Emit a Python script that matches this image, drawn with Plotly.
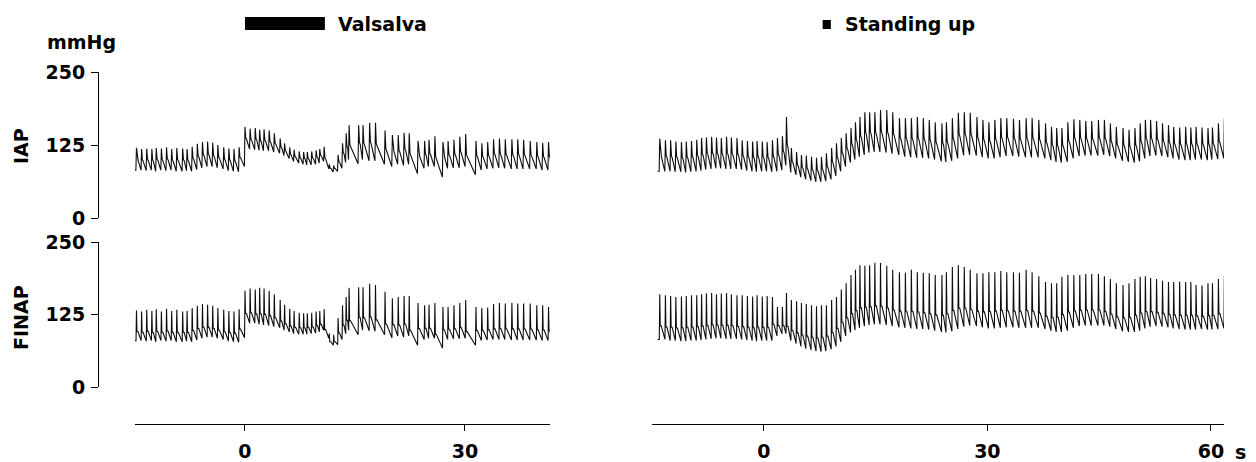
import plotly.graph_objects as go

# ---------------- DATA ----------------
# Left panel (Valsalva): beat peak times (s)
L_pre_t = [-14.8, -14.1, -13.4, -12.7, -12.1, -11.4, -10.7, -10.0, -9.3, -8.5, -7.9,
           -7.2, -6.5, -5.8, -5.1, -4.4, -3.7, -2.9, -2.2, -1.5, -0.8]
L_val_t = [0.0, 0.7, 1.4, 2.0, 2.6, 3.3, 4.0, 4.8, 5.4, 6.1, 6.7, 7.4, 8.0, 8.5, 9.1, 9.7, 10.2, 10.8]
L_dip_t = [11.5, 12.1]
L_rec_t = [12.7, 13.3, 13.8, 14.2, 15.5, 16.1, 17.0, 17.8, 19.1, 20.1, 20.9, 21.7, 22.4, 23.6,
           24.5, 25.1, 25.9, 27.0, 27.7, 28.5, 29.3, 30.1, 31.5, 32.3, 33.1, 33.9, 34.7, 35.5,
           36.4, 37.2, 38.0, 38.9, 39.8, 40.6, 41.4]

# IAP left: systolic / end-diastolic per beat (mmHg)
IAP_L_sys = ([120, 118, 119, 118, 120, 119, 121, 118, 120, 119, 118, 122, 127, 130, 131, 129, 125, 121, 119, 118, 121]
             + [156, 153, 154, 151, 152, 150, 145, 136, 128, 121, 117, 114, 113, 113, 114, 116, 118, 122]
             + [92, 90]
             + [108, 128, 145, 159, 159, 159, 163, 163, 150, 142, 142, 146, 145, 132, 132, 134, 140, 130,
                132, 134, 139, 144, 132, 128, 130, 135, 136, 135, 135, 135, 134, 132, 130, 129, 130])
IAP_L_dia = ([82, 81, 82, 80, 82, 81, 82, 80, 80, 81, 80, 83, 86, 88, 88, 86, 84, 81, 80, 79, 88]
             + [118, 117, 116, 115, 115, 113, 111, 107, 102, 97, 94, 92, 91, 91, 92, 94, 97, 84]
             + [79, 80]
             + [85, 95, 100, 93, 100, 98, 98, 92, 88, 92, 90, 92, 76, 85, 88, 88, 70, 85, 86, 86, 88,
                74, 82, 84, 85, 86, 85, 84, 84, 84, 84, 84, 82, 82, 82])
# FINAP left
FIN_L_sys = ([132, 130, 133, 131, 134, 130, 135, 131, 133, 130, 131, 136, 140, 143, 142, 140, 136, 133, 131, 130, 134]
             + [166, 170, 168, 171, 170, 166, 160, 150, 142, 135, 131, 128, 127, 127, 128, 130, 131, 134]
             + [92, 90]
             + [119, 141, 155, 171, 172, 172, 178, 176, 164, 153, 155, 157, 157, 145, 141, 142, 145, 138,
                138, 141, 145, 150, 138, 136, 137, 143, 145, 144, 145, 144, 144, 144, 141, 141, 138])
FIN_L_dia = ([80, 79, 80, 78, 80, 79, 80, 78, 78, 79, 78, 81, 84, 86, 86, 84, 82, 79, 78, 77, 85]
             + [110, 110, 108, 107, 106, 104, 102, 98, 95, 92, 91, 91, 91, 92, 93, 95, 98, 84]
             + [72, 73]
             + [82, 92, 98, 90, 98, 97, 96, 90, 85, 88, 86, 88, 72, 82, 84, 84, 67, 82, 83, 83, 84,
                72, 80, 81, 82, 82, 82, 81, 81, 81, 81, 81, 80, 80, 80])

# Right panel (Standing up): beat peak times (s)
R_pre_t = [-13.96, -13.2, -12.5, -11.8, -11.05, -10.4, -9.7, -9.0, -8.35, -7.7, -7.0, -6.35, -5.7,
           -5.0, -4.35, -3.6, -2.9, -2.2, -1.5, -0.9, -0.2, 0.45, 1.16, 1.83, 2.5]
R_spk_t = [3.04]
R_post_t = [3.7, 4.4, 5.05, 5.7, 6.4, 7.07, 7.74, 8.4, 9.1, 9.75]
R_mid_t = [10.4, 11.05, 11.7, 12.3, 12.9, 13.56, 14.2, 14.9, 15.66, 16.5, 17.3, 18.2, 19.0, 19.8,
           20.6, 21.4, 22.2, 23.0, 23.9, 24.5, 25.3, 26.1, 26.9, 27.7, 28.6, 29.4, 30.2, 31.0,
           31.8, 32.6, 33.5, 34.3, 35.2]
R_late_t = [36.0, 36.9, 37.8, 38.6, 39.3, 40.0, 40.8, 41.6, 42.4, 43.2, 44.0, 44.9, 45.7, 46.5,
            47.3, 48.2, 49.0, 49.8, 50.5, 51.2, 51.9, 52.7, 53.5, 54.3, 55.0, 55.8, 56.6, 57.3,
            58.0, 58.8, 59.6, 60.2, 61.0, 61.8]

IAP_R_sys = ([136, 133, 133, 131, 130, 131, 132, 134, 137, 138, 139, 138, 137, 139, 138, 137, 133, 132,
              131, 132, 131, 130, 133, 137, 140]
             + [173]
             + [120, 113, 108, 107, 105, 103, 105, 111, 120, 128]
             + [137, 145, 154, 164, 173, 181, 181, 181, 185, 185, 181, 171, 171, 171, 173, 171, 168, 164,
                162, 164, 171, 180, 181, 180, 173, 168, 164, 168, 171, 171, 170, 168, 171]
             + [171, 168, 162, 156, 154, 154, 164, 169, 168, 166, 166, 168, 168, 162, 156, 154, 151, 154,
                162, 168, 168, 166, 162, 159, 156, 155, 156, 155, 156, 155, 154, 155, 162, 171])
IAP_R_dia = ([80, 80, 79, 79, 78, 79, 80, 81, 83, 84, 85, 85, 84, 84, 84, 83, 81, 80, 79, 80, 80, 79, 80, 82, 90]
             + [78]
             + [74, 70, 66, 64, 62, 62, 63, 66, 72, 80]
             + [88, 95, 100, 105, 108, 112, 113, 113, 112, 110, 108, 105, 104, 103, 103, 102, 100, 97,
                96, 98, 102, 107, 108, 107, 104, 102, 102, 104, 106, 106, 105, 104, 104]
             + [104, 102, 99, 96, 95, 96, 102, 106, 107, 107, 107, 108, 106, 102, 98, 96, 95, 97, 102,
                106, 107, 106, 104, 102, 100, 99, 99, 100, 100, 99, 100, 101, 102, 104])
FIN_R_sys = ([160, 158, 157, 155, 156, 157, 158, 158, 160, 161, 162, 160, 161, 162, 160, 158, 158, 157,
              156, 158, 156, 157, 155, 138, 138]
             + [162]
             + [150, 148, 145, 143, 141, 139, 141, 141, 150, 155]
             + [168, 179, 193, 202, 210, 209, 210, 214, 214, 209, 202, 198, 197, 202, 198, 197, 196, 193,
                193, 198, 207, 210, 207, 202, 196, 196, 198, 198, 200, 198, 198, 197, 202]
             + [198, 191, 181, 179, 179, 190, 193, 193, 193, 195, 195, 195, 191, 186, 179, 176, 179, 186,
                190, 191, 188, 186, 183, 181, 181, 182, 181, 181, 176, 175, 179, 179, 186, 192])
FIN_R_dia = ([82, 80, 80, 79, 79, 80, 80, 81, 82, 83, 84, 84, 83, 83, 83, 82, 81, 80, 79, 80, 80, 80, 88, 92, 92]
             + [80]
             + [75, 70, 66, 64, 62, 61, 62, 65, 70, 78]
             + [88, 94, 98, 102, 105, 107, 108, 108, 107, 105, 103, 102, 101, 100, 100, 99, 97, 95, 94,
                96, 100, 104, 106, 105, 103, 101, 101, 102, 103, 103, 102, 102, 102]
             + [102, 100, 97, 95, 95, 97, 102, 105, 106, 106, 106, 106, 104, 100, 96, 95, 95, 97, 101,
                104, 105, 104, 103, 101, 100, 99, 99, 99, 100, 99, 99, 100, 101, 103])

y_ticks = [0, 125, 250]
x_ticks_left = [0, 30]
x_ticks_right = [0, 30, 60]

L_t = L_pre_t + L_val_t + L_dip_t + L_rec_t
R_t = R_pre_t + R_spk_t + R_post_t + R_mid_t + R_late_t
for a in (IAP_L_sys, IAP_L_dia, FIN_L_sys, FIN_L_dia):
    assert len(a) == len(L_t), (len(a), len(L_t))
for a in (IAP_R_sys, IAP_R_dia, FIN_R_sys, FIN_R_dia):
    assert len(a) == len(R_t), (len(a), len(R_t))


# -------- waveform drawing from beat values (rendering template) --------
def wave(times, sys, dia, shape):
    up, (d1, f1), (d2, f2) = shape
    xs = [times[0] - 0.3]
    ys = [dia[0]]
    for i, (tp, s, d) in enumerate(zip(times, sys, dia)):
        prev = dia[i - 1] if i > 0 else dia[0]
        nxt = times[i + 1] if i + 1 < len(times) else tp + 0.45
        xs += [tp - up, tp, tp + d1, tp + d2, nxt - up]
        ys += [prev, s, d + f1 * (s - d), d + f2 * (s - d), d]
    return xs, ys


IAP_SHAPE = (0.08, (0.11, 0.50), (0.22, 0.44))
FIN_SHAPE = (0.06, (0.07, 0.30), (0.20, 0.30))

# page body has an 8px margin; the figure is sized/offset to compensate
OFF = 8
W, H = 1256 - OFF, 462 - OFF
def px(x): return (x - OFF) / W
def py(y): return 1 - (y - OFF) / H

fig = go.Figure()
line = dict(color="#0d0d0d", width=1.1)
for (t, s, d, shp, xa, ya) in [
    (L_t, IAP_L_sys, IAP_L_dia, IAP_SHAPE, "x", "y"),
    (L_t, FIN_L_sys, FIN_L_dia, FIN_SHAPE, "x", "y2"),
    (R_t, IAP_R_sys, IAP_R_dia, IAP_SHAPE, "x2", "y"),
    (R_t, FIN_R_sys, FIN_R_dia, FIN_SHAPE, "x2", "y2"),
]:
    xs, ys = wave(t, s, d, shp)
    fig.add_trace(go.Scatter(x=xs, y=ys, mode="lines", line=line, xaxis=xa, yaxis=ya,
                             showlegend=False, hoverinfo="skip"))

FONT = "DejaVu Sans"
tickfont = dict(family=FONT, size=19, color="black", weight="bold")

xcommon = dict(showgrid=False, zeroline=False, showline=True, linecolor="black", linewidth=1,
               ticks="outside", ticklen=6, tickwidth=1, tickcolor="black", tickfont=tickfont,
               anchor="free", position=py(424), ticklabelstandoff=4, automargin=False)
ycommon = dict(showgrid=False, zeroline=False, showline=True, linecolor="black", linewidth=1,
               ticks="outside", ticklen=7, tickwidth=1, tickcolor="black", tickfont=tickfont,
               anchor="free", position=px(98), range=[0, 250], tickvals=y_ticks,
               ticklabelstandoff=2, automargin=False)

fig.update_layout(
    width=W, height=H, margin=dict(l=0, r=0, t=0, b=0, pad=0, autoexpand=False),
    paper_bgcolor="white", plot_bgcolor="white",
    xaxis=dict(domain=[px(135), px(550)], range=[-15, 41.6], tickvals=x_ticks_left, **xcommon),
    xaxis2=dict(domain=[px(652), px(1224)], range=[-15, 61.75], tickvals=x_ticks_right, **xcommon),
    yaxis=dict(domain=[py(218), py(72)], **ycommon),
    yaxis2=dict(domain=[py(387), py(242)], **ycommon),
)

bold = dict(family=FONT, size=19, color="black", weight="bold")
ann = [
    dict(text="mmHg", x=px(45), y=py(42), xanchor="left", yanchor="middle"),
    dict(text="IAP", x=px(21), y=py(146), xanchor="center", yanchor="middle", textangle=-90),
    dict(text="FINAP", x=px(21), y=py(318), xanchor="center", yanchor="middle", textangle=-90),
    dict(text="Valsalva", x=px(336), y=py(24), xanchor="left", yanchor="middle"),
    dict(text="Standing up", x=px(843), y=py(24), xanchor="left", yanchor="middle"),
    dict(text="s", x=px(1233), y=py(452), xanchor="left", yanchor="middle"),
]
for a in ann:
    fig.add_annotation(xref="paper", yref="paper", showarrow=False, font=bold, **a)

fig.add_shape(type="rect", xref="x", yref="paper", x0=0, x1=10.9, y0=py(30), y1=py(17),
              fillcolor="black", line=dict(width=0))
fig.add_shape(type="rect", xref="x2", yref="paper", x0=7.9, x1=9.0, y0=py(29), y1=py(20),
              fillcolor="black", line=dict(width=0))

fig.write_html("out.html")
